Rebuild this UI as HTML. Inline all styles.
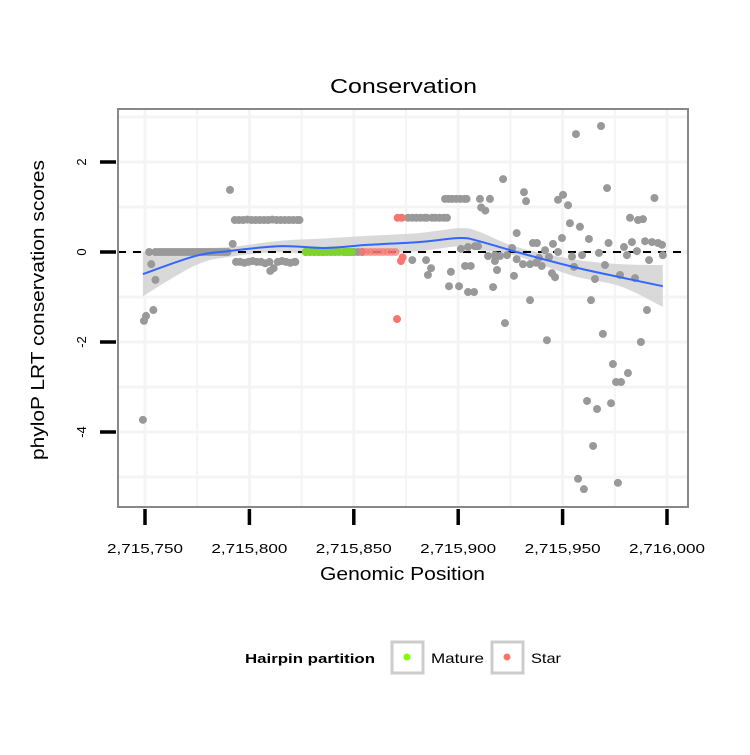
<!DOCTYPE html>
<html><head><meta charset="utf-8"><style>
body{margin:0;background:#fff;font-family:"Liberation Sans",sans-serif}
svg text{font-family:"Liberation Sans",sans-serif}
</style></head><body>
<svg id="chart" width="750" height="750" viewBox="0 0 750 750" xmlns="http://www.w3.org/2000/svg">
<rect width="750" height="750" fill="#fff"/>
<text x="330" y="93" font-size="20" textLength="147" lengthAdjust="spacingAndGlyphs">Conservation</text>
<g id="grid"></g>
<g id="ribbon"></g>
<line x1="118" x2="688" y1="252" y2="252" stroke="#000" stroke-width="2" stroke-dasharray="8,7"/>
<g id="points"></g>
<g id="smooth"></g>
<rect x="118" y="109" width="570" height="398" fill="none" stroke="#888" stroke-width="2"/>
<g id="axes"></g>
<text x="320" y="580" font-size="18" textLength="165" lengthAdjust="spacingAndGlyphs">Genomic Position</text>
<text transform="translate(44,460) rotate(-90)" font-size="18" textLength="300" lengthAdjust="spacingAndGlyphs">phyloP LRT conservation scores</text>
<g>
<text x="245" y="663" font-size="13" font-weight="bold" textLength="130" lengthAdjust="spacingAndGlyphs">Hairpin partition</text>
<g>
<rect x="392" y="642" width="31" height="31" fill="#fff" stroke="#ccc" stroke-width="3"/>
<circle cx="407" cy="657" r="3.5" fill="#7fff00"/>
<text x="431" y="663" font-size="14" textLength="53" lengthAdjust="spacingAndGlyphs">Mature</text></g>
<g>
<rect x="492" y="642" width="31" height="31" fill="#fff" stroke="#ccc" stroke-width="3"/>
<circle cx="507" cy="657" r="3.5" fill="#f8766d"/>
<text x="531" y="663" font-size="14" textLength="30" lengthAdjust="spacingAndGlyphs">Star</text></g>
</g>
</svg>
<script>
// gray (other) points: offset from 2,715,750 and score
const grayPos=[-1,-0.5,0.5,4,3,5,2,5,6.5,8,9.5,11,12.5,14,15.5,17,18.5,20,21.5,23,24.5,26,27.5,29,30.5,32,33.5,35,36.5,38,39.5,40.7,42,
 43,45,47,49,51,53,55,57,59,61,63,65,67,69,71,73,74,
 43.6,45.6,47.6,49.6,51.6,53.6,55.6,57.6,59.6,61.6,63.6,65.6,67.6,69.6,71.6,72,60,
 77,79,81,83,85,96,98,100,102,104,
 128,134.6,137,135.5,126,128,130,132,134,135,137.5,139,141,143,144.6,
 143.7,145.5,147,149,151,153,154,160.4,165.2,161,163,171.5,181.5,182.5,206.4,218.4,221.3,244,197.8,200.2,202.6,203.5,208.3,178,199.7,185.8,187.7,195.4,191.6,212.6,222,232.3,236.1,238.5,233.2,239.5,242.8,245.7,247.6,229.4,235.6,230.8,248,217.4,209.3,204.5,241.4,220.3,205.5,227.5,234.7,215.5,213.6,240.4,219.3,237.5,192.5,172.4,184.4,176.7,224.1,231.3,225.6,228,211.7,216.5,223.2,214.6,207.4,210.2,226.5,
 146.5,145.6,150.4,154.7,157.6,153.3,156,151.3,154.7,158,159.5,164.3,167.6,170,173.4,168.6,166.7,167.6,175.8,178,181,184.4,187.3,190,193.5,194.9,196.4,188.7,197.8];
const grayScore=[-3.73,-1.53,-1.42,-1.29,-0.27,-0.62,0,0,0,0,0,0,0,0,0,0,0,0,0,0,0,0,0,0,0,0,0,0,0,0,0,1.38,0.18,
 0.71,0.71,0.71,0.72,0.71,0.71,0.71,0.71,0.71,0.72,0.71,0.71,0.71,0.71,0.71,0.71,0.71,
 -0.22,-0.22,-0.24,-0.22,-0.2,-0.22,-0.22,-0.25,-0.22,-0.36,-0.22,-0.2,-0.22,-0.24,-0.22,-0.22,-0.42,
 0,0,0,0,0,0,0,0,0,0,
 -0.18,-0.18,-0.36,-0.51,0.76,0.76,0.76,0.76,0.76,0.76,0.76,0.76,0.76,0.76,0.76,
 1.18,1.18,1.18,1.18,1.18,1.18,1.18,1.18,1.18,0.99,0.92,1.62,1.33,1.13,2.62,2.8,1.42,1.2,1.16,1.27,1.04,0.64,0.56,0.42,0.31,0.2,0.2,0.18,0.04,0.29,0.2,0.76,0.71,0.73,0.22,0.24,0.22,0.2,0.16,0.11,0.02,-0.07,-0.07,-0.02,-0.07,-0.1,-0.18,-0.29,-0.33,-0.51,-0.58,-0.6,-1.07,-1.29,-1.82,-2.0,-1.96,-1.58,-1.07,-0.53,-2.49,-2.69,-2.89,-2.89,-3.31,-3.49,-3.36,-4.31,-5.04,-5.27,-5.13,
 -0.44,-0.76,-0.76,-0.89,-0.89,-0.31,-0.31,0.07,0.11,0.13,0.13,-0.09,-0.07,-0.09,-0.07,-0.4,-0.78,-0.2,0.09,-0.16,-0.27,-0.27,-0.24,-0.31,-0.11,-0.47,-0.56,-0.13,0];
const maturePos=[77,79,81,83,85,87,89,91,93,95,97,99];
const matureScore=[0,0,0,0,0,0,0,0,0,0,0,0];
const starPos=[104,106,108,110,112,114,116,118,120,120.7,122.6,123.4,121,123];
const starScore=[0,0,0,0,0,0,0,0,0,-1.49,-0.2,-0.12,0.76,0.76];
// loess fit and confidence band
const fitPos=[-1,24,40,65,86,107,131,151,160,178,205,227.5,248];
const fitVal=[-0.49,-0.09,0.02,0.13,0.09,0.16,0.22,0.31,0.24,0,-0.33,-0.56,-0.76];
const fitUpper=[0,0.08,0.11,0.25,0.3,0.36,0.42,0.53,0.45,0.11,-0.16,-0.27,-0.29];
const fitLower=[-0.98,-0.3,-0.11,0.0,-0.09,-0.03,0.02,0.13,0.05,-0.09,-0.53,-0.76,-1.22];
const xTicks=[0,50,100,150,200,250];
const xTickLabels=["2,715,750","2,715,800","2,715,850","2,715,900","2,715,950","2,716,000"];
const yTicks=[2,0,-2,-4];
const yTickLabels=["2","0","-2","-4"];

const X=v=>145+v*2.088, Y=v=>252-v*45;
const NS="http://www.w3.org/2000/svg";
function mk(tag,attrs,parent){const e=document.createElementNS(NS,tag);for(const k in attrs)e.setAttribute(k,attrs[k]);parent.appendChild(e);return e;}
const grid=document.getElementById('grid');
for(let v=0;v<=250;v+=25){const l=mk('line',{x1:X(v),x2:X(v),y1:109,y2:507,stroke:'#f4f4f4','stroke-width':v%50===0?3:2},grid);

}
for(let v=-5;v<=3;v+=1){const l=mk('line',{x1:118,x2:688,y1:Y(v),y2:Y(v),stroke:'#f4f4f4','stroke-width':3},grid);

}
function curve(xs,ys){let d='M'+xs[0]+','+ys[0];for(let i=0;i<xs.length-1;i++){const x0=xs[Math.max(i-1,0)],y0=ys[Math.max(i-1,0)],x3=xs[Math.min(i+2,xs.length-1)],y3=ys[Math.min(i+2,xs.length-1)];
d+=' C'+(xs[i]+(xs[i+1]-x0)/6)+','+(ys[i]+(ys[i+1]-y0)/6)+' '+(xs[i+1]-(x3-xs[i])/6)+','+(ys[i+1]-(y3-ys[i])/6)+' '+xs[i+1]+','+ys[i+1];}return d;}
const fx=fitPos.map(X);
const up=curve(fx,fitUpper.map(Y));
const lowRev=curve(fx.slice().reverse(),fitLower.map(Y).reverse()).replace(/^M/,'L');
const rib=mk('path',{d:up+' '+lowRev+' Z',fill:'#d0d0d0','fill-opacity':0.8},document.getElementById('ribbon'));


const pts=document.getElementById('points');
grayPos.forEach((p,i)=>{const c=mk('circle',{cx:X(p),cy:Y(grayScore[i]),r:4,fill:'#999'},pts);

});
maturePos.forEach((p,i)=>{const c=mk('circle',{cx:X(p),cy:Y(matureScore[i]),r:4,fill:'#7fd32e'},pts);

});
starPos.forEach((p,i)=>{const c=mk('circle',{cx:X(p),cy:Y(starScore[i]),r:4,fill:'#f8766d','fill-opacity':starScore[i]===0?0.7:1},pts);

});
const sm=mk('path',{d:curve(fx,fitVal.map(Y)),fill:'none',stroke:'#3366ff','stroke-width':2},document.getElementById('smooth'));


const ax=document.getElementById('axes');
xTicks.forEach((v,i)=>{const t=mk('line',{x1:X(v),x2:X(v),y1:509,y2:525,stroke:'#000','stroke-width':3.5},ax);


const l=mk('text',{x:X(v)-38,y:553,'font-size':13,textLength:76,lengthAdjust:'spacingAndGlyphs'},ax);l.textContent=xTickLabels[i];

});
yTicks.forEach((v,i)=>{const t=mk('line',{x1:100,x2:116,y1:Y(v),y2:Y(v),stroke:'#000','stroke-width':3.5},ax);


const l=mk('text',{transform:'translate(86,'+Y(v)+') rotate(-90)','font-size':13,'text-anchor':'middle'},ax);l.textContent=yTickLabels[i];

});
</script>
</body></html>
